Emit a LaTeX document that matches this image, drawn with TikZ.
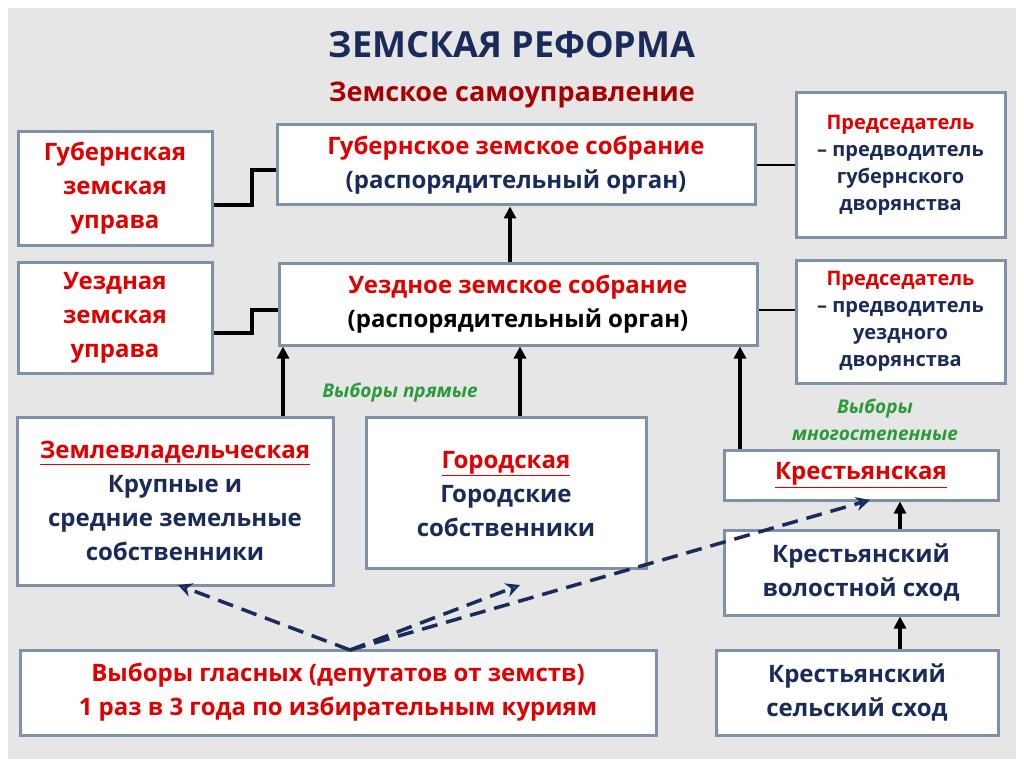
\documentclass[tikz,border=0pt]{standalone}
\usepackage{fontspec}
\setmainfont{Open Sans}
\usetikzlibrary{arrows.meta}
\definecolor{rd}{HTML}{E00000}
\definecolor{nv}{HTML}{1A2B5A}
\definecolor{gr}{HTML}{2A9A3A}
\definecolor{bd}{HTML}{8090A8}
\definecolor{bg}{HTML}{E6E6E6}
\begin{document}
\begin{tikzpicture}[x=1pt,y=-1pt,
 box/.style={draw=bd,line width=3pt,fill=white,inner sep=0pt,align=center,font=\fontsize{24}{34}\selectfont\bfseries,text=nv},
 con/.style={line width=4pt,black},
 arr/.style={line width=3.5pt,black,-{Triangle[length=12pt,width=12pt]}},
 dsh/.style={line width=3.5pt,nv,dashed,dash pattern=on 16pt off 9pt,-{Stealth[length=14pt,width=14pt,open]}},
 lab/.style={text=gr,font=\fontsize{19}{27}\selectfont\bfseries\itshape,align=center}]
\useasboundingbox (0,0) rectangle (1024,767);
\fill[white] (0,0) rectangle (1024,767);
\fill[bg] (8,8) rectangle (1016,759);
\node[text=nv,font=\fontsize{36}{40}\selectfont\bfseries] (t1) at (512,45) {ЗЕМСКАЯ РЕФОРМА};
\node[text=rd!75!black,font=\fontsize{27}{30}\selectfont\bfseries] (t2) at (512,95) {Земское самоуправление};
\node[box,minimum width=194pt,minimum height=113pt,text=rd] (gu) at (115,188.5) {Губернская\\земская\\управа};
\node[box,minimum width=478pt,minimum height=80pt] (gs) at (516,165) {\textcolor{rd}{Губернское земское собрание}\\(распорядительный орган)};
\node[box,minimum width=209pt,minimum height=144pt,font=\fontsize{20}{27}\selectfont\bfseries] (gp) at (900.5,165) {\textcolor{rd}{Председатель}\\– предводитель\\губернского\\дворянства};
\node[box,minimum width=194pt,minimum height=111pt,text=rd] (uu) at (115,317.5) {Уездная\\земская\\управа};
\node[box,minimum width=478pt,minimum height=82pt,text=black] (us) at (518,304) {\textcolor{rd}{Уездное земское собрание}\\(распорядительный орган)};
\node[box,minimum width=209pt,minimum height=123pt,font=\fontsize{20}{27}\selectfont\bfseries] (up) at (900.5,321.5) {\textcolor{rd}{Председатель}\\– предводитель\\уездного\\дворянства};
\node[box,minimum width=316pt,minimum height=168pt] (zm) at (175,501) {\textcolor{rd}{\underline{Землевладельческая}}\\Крупные и\\средние земельные\\собственники};
\node[box,minimum width=280pt,minimum height=151pt] (gd) at (506,492.5) {\\[-14pt]\textcolor{rd}{\underline{Городская}}\\Городские\\собственники};
\node[box,minimum width=274pt,minimum height=50pt,text=rd] (kr) at (861,475) {\underline{Крестьянская}};
\node[box,minimum width=274pt,minimum height=85pt] (vs) at (861,572.5) {Крестьянский\\волостной сход};
\node[box,minimum width=282pt,minimum height=85pt] (ss) at (857,692.5) {Крестьянский\\сельский сход};
\node[box,minimum width=636pt,minimum height=85pt,text=rd] (vg) at (338,692.5) {Выборы гласных (депутатов от земств)\\1 раз в 3 года по избирательным куриям};
\draw[con] (gu.east|-0,205) -- (252,205) -- (252,170) -- (gs.west|-0,170);
\draw[con] (uu.east|-0,333) -- (252,333) -- (252,310) -- (us.west|-0,310);
\draw[line width=2pt] (gs.east) -- (gp.west|-gs.east);
\draw[line width=2pt] (us.east|-0,310) -- (up.west|-0,310);
\draw[arr] (us.north-|510,0) -- (gs.south-|510,0);
\draw[arr] (zm.north-|283,0) -- (us.south-|283,0);
\draw[arr] (gd.north-|520,0) -- (us.south-|520,0);
\draw[arr] (kr.north-|740,0) -- (us.south-|740,0);
\draw[arr] (vs.north-|900,0) -- (kr.south-|900,0);
\draw[arr] (ss.north-|900,0) -- (vs.south-|900,0);
\node[lab] (l1) at (400,392) {Выборы прямые};
\node[lab] (l2) at (875,420) {Выборы\\многостепенные};
\coordinate (o) at (350,650);
\draw[dsh] (o) -- (178,585);
\draw[dsh] (o) -- (520,585);
\draw[dsh] (o) -- (870,500);
\end{tikzpicture}
\end{document}
